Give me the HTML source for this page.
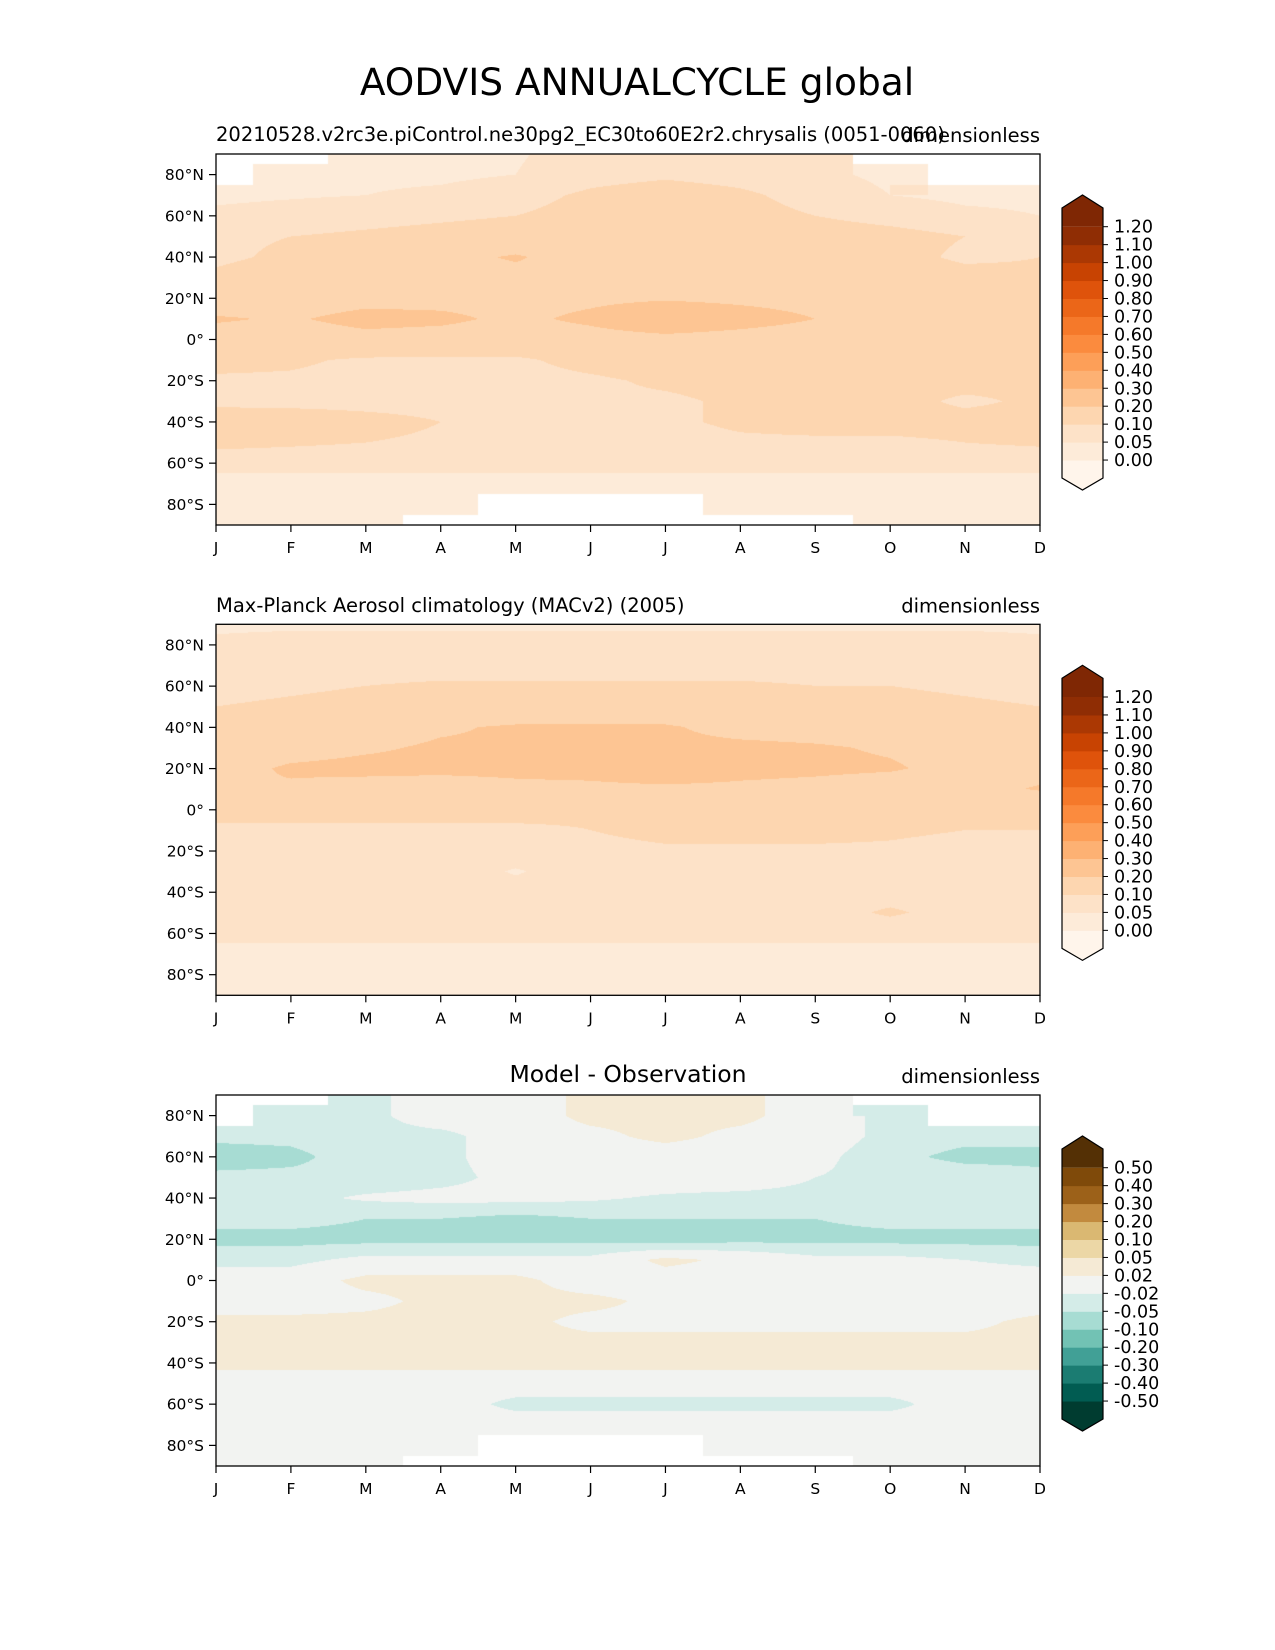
<!DOCTYPE html>
<html><head><meta charset="utf-8">
<style>
body{margin:0;background:#fff;}
#root{position:relative;width:1275px;height:1650px;background:#fff;font-family:"DejaVu Sans","Liberation Sans",sans-serif;color:#000;overflow:hidden;}
canvas{position:absolute;}
svg{position:absolute;left:0;top:0;}
</style></head>
<body>
<div id="root">
<canvas id="c1" width="824" height="371" style="left:216px;top:154px"></canvas>
<canvas id="c2" width="824" height="371" style="left:216px;top:624px"></canvas>
<canvas id="c3" width="824" height="371" style="left:216px;top:1095px"></canvas>
<svg id="svg" width="1275" height="1650"></svg>
</div>
<script>
const months = ["J","F","M","A","M","J","J","A","S","O","N","D"];
const lats = [90,80,70,60,50,40,30,20,10,0,-10,-20,-30,-40,-50,-60,-70,-80,-90];
const latTicks = ["80°N","60°N","40°N","20°N","0°","20°S","40°S","60°S","80°S"];
const latTickVals = [80,60,40,20,0,-20,-40,-60,-80];
const N = NaN;
const modelVals = [
[N,N,.04,.04,.045,.07,.08,.07,.06,N,N,N],
[N,.04,.04,.04,.05,.08,.09,.08,.06,.04,N,N],
[.04,.045,.05,.06,.08,.11,.13,.11,.08,.05,.04,.04],
[.06,.07,.08,.09,.10,.12,.14,.12,.10,.08,.06,.05],
[.09,.10,.11,.12,.13,.14,.15,.14,.13,.12,.10,.09],
[.09,.11,.14,.17,.21,.15,.16,.15,.14,.12,.09,.10],
[.11,.13,.15,.16,.17,.17,.18,.17,.16,.13,.12,.11],
[.14,.15,.17,.17,.17,.18,.19,.18,.17,.15,.14,.14],
[.21,.19,.23,.22,.18,.22,.28,.24,.20,.17,.16,.16],
[.16,.15,.17,.16,.15,.16,.17,.16,.15,.14,.14,.14],
[.12,.11,.09,.09,.09,.12,.14,.14,.13,.13,.13,.13],
[.09,.09,.08,.08,.08,.09,.11,.12,.12,.12,.12,.11],
[.08,.08,.08,.08,.09,.09,.09,.11,.12,.12,.09,.11],
[.15,.14,.12,.10,.08,.08,.09,.11,.12,.12,.12,.12],
[.12,.11,.10,.09,.08,.08,.08,.09,.09,.09,.10,.11],
[.06,.06,.06,.06,.06,.06,.06,.06,.06,.06,.06,.06],
[.04,.04,.04,.04,.04,.04,.04,.04,.04,.04,.04,.04],
[.04,.04,.04,.04,N,N,N,.04,.04,.04,.04,.04],
[.04,.04,.04,N,N,N,N,N,N,.04,.04,.04]];
const obsVals = [
[.045,.045,.045,.045,.045,.045,.045,.045,.045,.045,.045,.045],
[.055,.06,.06,.06,.06,.06,.06,.06,.06,.06,.06,.055],
[.07,.07,.07,.07,.07,.07,.07,.07,.07,.07,.07,.07],
[.08,.09,.10,.11,.11,.11,.11,.11,.10,.10,.09,.08],
[.10,.11,.12,.12,.13,.13,.13,.13,.12,.12,.11,.10],
[.13,.14,.16,.19,.21,.21,.21,.17,.16,.15,.14,.13],
[.15,.17,.19,.21,.21,.21,.22,.22,.21,.19,.16,.15],
[.17,.21,.22,.22,.22,.23,.27,.23,.22,.21,.17,.16],
[.20,.19,.17,.16,.18,.18,.18,.18,.17,.15,.16,.21],
[.12,.12,.12,.12,.12,.11,.12,.12,.11,.11,.10,.10],
[.09,.09,.09,.09,.09,.10,.12,.12,.12,.11,.10,.10],
[.08,.08,.08,.08,.08,.08,.09,.09,.09,.09,.08,.08],
[.08,.08,.08,.08,.045,.08,.08,.08,.08,.08,.08,.08],
[.07,.07,.07,.07,.07,.07,.07,.07,.07,.07,.07,.07],
[.07,.07,.07,.07,.07,.07,.07,.07,.07,.11,.07,.07],
[.06,.06,.06,.06,.06,.06,.06,.06,.06,.06,.06,.06],
[.04,.04,.04,.04,.04,.04,.04,.04,.04,.04,.04,.04],
[.04,.04,.04,.04,.04,.04,.04,.04,.04,.04,.04,.04],
[.04,.04,.04,.04,.04,.04,.04,.04,.04,.04,.04,.04]];
const diffVals = [
[N,N,-.03,0,0,.03,.03,.03,0,N,N,N],
[N,-.03,-.03,0,0,.03,.03,.03,0,-.03,N,N],
[-.04,-.04,-.03,-.03,0,.01,.03,.01,0,-.03,-.04,-.04],
[-.07,-.06,-.03,-.03,0,0,0,0,-.01,-.04,-.06,-.06],
[-.04,-.04,-.04,-.03,-.01,0,0,0,-.02,-.03,-.03,-.04],
[-.03,-.03,-.015,-.01,-.01,-.015,-.025,-.03,-.03,-.03,-.03,-.03],
[-.04,-.04,-.05,-.05,-.06,-.05,-.05,-.05,-.05,-.04,-.04,-.04],
[-.06,-.06,-.06,-.06,-.06,-.06,-.07,-.06,-.06,-.06,-.06,-.06],
[-.03,-.03,-.01,-.01,-.01,-.01,.03,.01,-.01,-.01,-.02,-.03],
[0,0,.03,.03,.03,0,0,0,0,0,0,0],
[0,0,.01,.03,.03,.03,.01,0,0,0,0,0],
[.03,.03,.03,.03,.03,.01,.01,.01,.01,.01,.01,.03],
[.03,.03,.03,.03,.03,.03,.03,.03,.03,.03,.03,.03],
[.03,.03,.03,.03,.03,.03,.03,.03,.03,.03,.03,.03],
[0,0,0,0,0,0,0,0,0,0,0,0],
[0,0,0,0,-.03,-.03,-.03,-.03,-.03,-.03,0,0],
[0,0,0,0,0,0,0,0,0,0,0,0],
[0,0,0,0,N,N,N,0,0,0,0,0],
[0,0,0,N,N,N,N,N,N,0,0,0]];
const aodLevels = [0,0.05,0.1,0.2,0.3,0.4,0.5,0.6,0.7,0.8,0.9,1.0,1.1,1.2];
const aodLabels = ["0.00","0.05","0.10","0.20","0.30","0.40","0.50","0.60","0.70","0.80","0.90","1.00","1.10","1.20"];
const aodColors = ["#fff5eb","#fdebd9","#fde2c8","#fdd6b0","#fdc593","#fdb173","#fd9f58","#fb8b3e","#f5792a","#eb6618","#df530b","#c84302","#ab3803","#8f2d04","#7f2704"];
const diffLevels = [-0.5,-0.4,-0.3,-0.2,-0.1,-0.05,-0.02,0.02,0.05,0.1,0.2,0.3,0.4,0.5];
const diffLabels = ["-0.50","-0.40","-0.30","-0.20","-0.10","-0.05","-0.02","0.02","0.05","0.10","0.20","0.30","0.40","0.50"];
const diffColors = ["#003c30","#015c52","#1b7c72","#41a096","#72c2b4","#a7dcd3","#d4ece8","#f2f3f1","#f5ead5","#ecd7a6","#dab872","#c28a3e","#9c6119","#7f4a0a","#543005"];

const W=824,H=371,X0=216;
const tops=[154,624.3,1095];
function xScale(mi){return X0+mi*W/11;}
function yScale(top,lat){return top+(90-lat)/180*H;}
function binOf(v,levels){let k=0;while(k<levels.length&&v>=levels[k])k++;return k;}
function hex(c){return [parseInt(c.slice(1,3),16),parseInt(c.slice(3,5),16),parseInt(c.slice(5,7),16)];}
function drawField(id,vals,levels,colors){
  const cv=document.getElementById(id),ctx=cv.getContext('2d');
  const img=ctx.createImageData(W,H),d=img.data;
  const rgb=colors.map(hex);
  for(let py=0;py<H;py++){
    const fi=(py+0.5)/H*18;const i0=Math.min(17,Math.floor(fi)),ti=fi-i0;
    for(let px=0;px<W;px++){
      const fm=(px+0.5)/W*11;const m0=Math.min(10,Math.floor(fm)),tm=fm-m0;
      const a=vals[i0][m0],b=vals[i0][m0+1],c=vals[i0+1][m0],e=vals[i0+1][m0+1];
      let v;
      if(isNaN(a)||isNaN(b)||isNaN(c)||isNaN(e)){
        const ni=ti<0.5?i0:i0+1,nm=tm<0.5?m0:m0+1;v=vals[ni][nm];
      } else v=(a*(1-tm)+b*tm)*(1-ti)+(c*(1-tm)+e*tm)*ti;
      const o=(py*W+px)*4;
      if(isNaN(v)){d[o]=255;d[o+1]=255;d[o+2]=255;d[o+3]=255;continue;}
      const col=rgb[binOf(v,levels)];
      d[o]=col[0];d[o+1]=col[1];d[o+2]=col[2];d[o+3]=255;
    }
  }
  ctx.putImageData(img,0,0);
}
drawField('c1',modelVals,aodLevels,aodColors);
drawField('c2',obsVals,aodLevels,aodColors);
drawField('c3',diffVals,diffLevels,diffColors);

const svg=document.getElementById('svg');const NS='http://www.w3.org/2000/svg';
function el(tag,attrs,parent){const e=document.createElementNS(NS,tag);for(const k in attrs)e.setAttribute(k,attrs[k]);(parent||svg).appendChild(e);return e;}
function txt(x,y,s,size,anchor,name){const t=el('text',{x:x,y:y,'font-size':size,'text-anchor':anchor||'start',fill:'#000','font-family':'DejaVu Sans, Liberation Sans, sans-serif'});t.textContent=s;


return t;}

txt(637,95,"AODVIS ANNUALCYCLE global",37.5,'middle','figure-title');
const panelNames=['model','obs','diff'];
tops.forEach((top,p)=>{
  const frame=el('rect',{x:X0,y:top,width:W,height:H,fill:'none',stroke:'#000','stroke-width':1.3});
  
  
  latTickVals.forEach((lv,k)=>{
    const y=yScale(top,lv);
    el('line',{x1:X0-7,x2:X0,y1:y,y2:y,stroke:'#000','stroke-width':1.2});
    txt(X0-12,y+5.5,latTicks[k],15.5,'end',panelNames[p]+'-lat-tick-label');
  });
  months.forEach((m,k)=>{
    const x=xScale(k);
    el('line',{x1:x,x2:x,y1:top+H,y2:top+H+7,stroke:'#000','stroke-width':1.2});
    txt(x,top+H+28,m,15.5,'middle',panelNames[p]+'-month-tick-label');
  });
  txt(X0+W,top-12,"dimensionless",19.5,'end',panelNames[p]+'-units');
});
txt(X0,141,"20210528.v2rc3e.piControl.ne30pg2_EC30to60E2r2.chrysalis (0051-0060)",19.5,'start','model-subtitle');
txt(X0,612,"Max-Planck Aerosol climatology (MACv2) (2005)",19.5,'start','obs-subtitle');
txt(628,1082,"Model - Observation",23.5,'middle','diff-title');

function colorbar(top,levels,labels,colors,name){
  const cx0=1062,cx1=1103,step=17.95;
  const yTop=top+72.7;
  const yOf=k=>yTop+(levels.length-1-k)*step;
  const yLow=yOf(0);
  const n=colors.length;
  el('polygon',{points:`${cx0},${yTop-18.7} ${(cx0+cx1)/2},${yTop-31.7} ${cx1},${yTop-18.7} ${cx1},${yTop} ${cx0},${yTop}`,fill:colors[n-1]});
  el('polygon',{points:`${cx0},${yLow} ${cx1},${yLow} ${cx1},${yLow+18} ${(cx0+cx1)/2},${yLow+30} ${cx0},${yLow+18}`,fill:colors[0]});
  for(let k=0;k<levels.length-1;k++){
    el('rect',{x:cx0,y:yOf(k+1),width:cx1-cx0,height:step+0.5,fill:colors[k+1]});
  }
  const outline=el('polygon',{points:`${cx0},${yTop-18.7} ${(cx0+cx1)/2},${yTop-31.7} ${cx1},${yTop-18.7} ${cx1},${yLow+18} ${(cx0+cx1)/2},${yLow+30} ${cx0},${yLow+18}`,fill:'none',stroke:'#000','stroke-width':1.2});
  
  
  labels.forEach((l,k)=>{
    const y=yOf(k);
    el('line',{x1:cx1,x2:cx1+5,y1:y,y2:y,stroke:'#000','stroke-width':1});
    txt(cx1+11,y+6,l,17.5,'start',name+'-label');
  });
}
colorbar(154,aodLevels,aodLabels,aodColors,'model-colorbar');
colorbar(624.3,aodLevels,aodLabels,aodColors,'obs-colorbar');
colorbar(1095,diffLevels,diffLabels,diffColors,'diff-colorbar');
</script>
</body></html>
